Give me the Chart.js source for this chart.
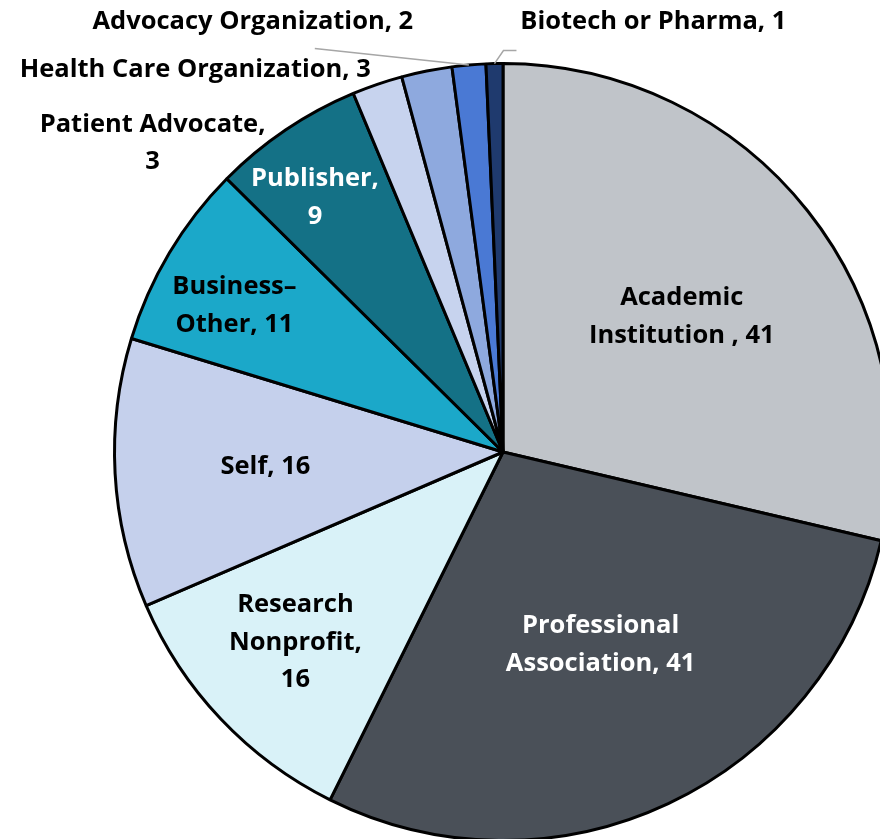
<!DOCTYPE html>
<html>
<head>
<meta charset="utf-8">
<script src="https://cdn.jsdelivr.net/npm/chart.js@4/dist/chart.umd.min.js"></script>
<style>
  html, body { margin: 0; padding: 0; width: 880px; height: 839px; overflow: hidden; background: #ffffff; }
  #wrap { position: absolute; left: 0; top: 0; width: 1006px; height: 904px; }
</style>
</head>
<body>
<div id="wrap"><canvas id="c" width="1006" height="904"></canvas></div>
<script>
// ---- data ----
const categories = [
  "Academic Institution", "Professional Association", "Research Nonprofit", "Self",
  "Business\u2013Other", "Publisher", "Patient Advocate", "Health Care Organization",
  "Advocacy Organization", "Biotech or Pharma"
];
const values = [41, 41, 16, 16, 11, 9, 3, 3, 2, 1];
// label lines as displayed in the chart
const labelLines = [
  ["Academic", "Institution , 41"],
  ["Professional", "Association, 41"],
  ["Research", "Nonprofit,", "16"],
  ["Self, 16"],
  ["Business\u2013", "Other, 11"],
  ["Publisher,", "9"],
  ["Patient Advocate,", "3"],
  ["Health Care Organization, 3"],
  ["Advocacy Organization, 2"],
  ["Biotech or Pharma, 1"]
];
const colors = ["#c0c4c9", "#4a5058", "#d9f2f8", "#c5d0ec", "#1ba8c9", "#147186",
                "#c7d3ee", "#8ea9de", "#4a79d4", "#1f3a6e"];
const labelColors = ["#000", "#fff", "#000", "#000", "#000", "#fff", "#000", "#000", "#000", "#000"];

// ---- label placement (styling) ----
// inside labels: radial fraction along arc mid-angle (+ small angle tweak in degrees);
// outside labels: position in radius units from centre
const placement = [
  {r: 0.58, da: 0.9}, {r: 0.552, da: -1.9}, {r: 0.7216, da: 1.2}, {r: 0.6125, da: 0},
  {r: 0.79, da: -1.9}, {r: 0.818, da: -2.3},
  {ox: -0.902, oy: -0.795},
  {ox: -0.792, oy: -0.985},
  {ox: -0.644, oy: -1.108, leader: "straight"},
  {ox: 0.387, oy: -1.108, leader: "elbow"}
];

const labelPlugin = {
  id: 'sliceLabels',
  afterDatasetsDraw(chart) {
    const ctx = chart.ctx;
    const meta = chart.getDatasetMeta(0);
    const lineH = 37.5;
    ctx.save();
    ctx.font = "bold 25.5px 'Open Sans', Lato, sans-serif";
    ctx.textAlign = "center";
    ctx.textBaseline = "middle";
    meta.data.forEach((arc, i) => {
      const p = arc.getProps(['x', 'y', 'startAngle', 'endAngle', 'outerRadius']);
      const R = p.outerRadius;
      const mid = (p.startAngle + p.endAngle) / 2;
      const pl = placement[i];
      let cx, cy;
      if (pl.r !== undefined) {
        const a = mid + (pl.da || 0) * Math.PI / 180;
        cx = p.x + Math.cos(a) * R * pl.r;
        cy = p.y + Math.sin(a) * R * pl.r + 2;
      } else {
        cx = p.x + pl.ox * R;
        cy = p.y + pl.oy * R;
      }
      // leader lines
      if (pl.leader) {
        const ex = p.x + Math.cos(mid) * R;
        const ey = p.y + Math.sin(mid) * R;
        ctx.strokeStyle = "#a6a6a6";
        ctx.lineWidth = 1.5;
        ctx.beginPath();
        if (pl.leader === "straight") {
          const sx = cx + 62, sy = cy + 27;
          ctx.moveTo(sx, sy);
          ctx.lineTo(ex, ey);
        } else {
          const hx = ex + 9, hy = ey - 13;
          ctx.moveTo(ex, ey);
          ctx.lineTo(hx, hy);
          ctx.lineTo(hx + 13, hy);
        }
        ctx.stroke();
      }
      ctx.fillStyle = labelColors[i];
      const lines = labelLines[i];
      const y0 = cy - (lines.length - 1) * lineH / 2;
      lines.forEach((t, k) => ctx.fillText(t, cx, y0 + k * lineH));
    });
    ctx.restore();
  }
};

new Chart(document.getElementById('c'), {
  type: 'pie',
  data: {
    labels: categories,
    datasets: [{
      data: values,
      backgroundColor: colors,
      borderColor: "#000000",
      borderWidth: 3,
      hoverOffset: 0,
      offset: 0,
      borderAlign: 'center'
    }]
  },
  options: {
    responsive: false,
    animation: false,
    events: [],
    layout: { padding: { left: 113, right: 113, top: 62, bottom: 62 } },
    plugins: { legend: { display: false }, tooltip: { enabled: false } }
  },
  plugins: [labelPlugin]
});
</script>
</body>
</html>
